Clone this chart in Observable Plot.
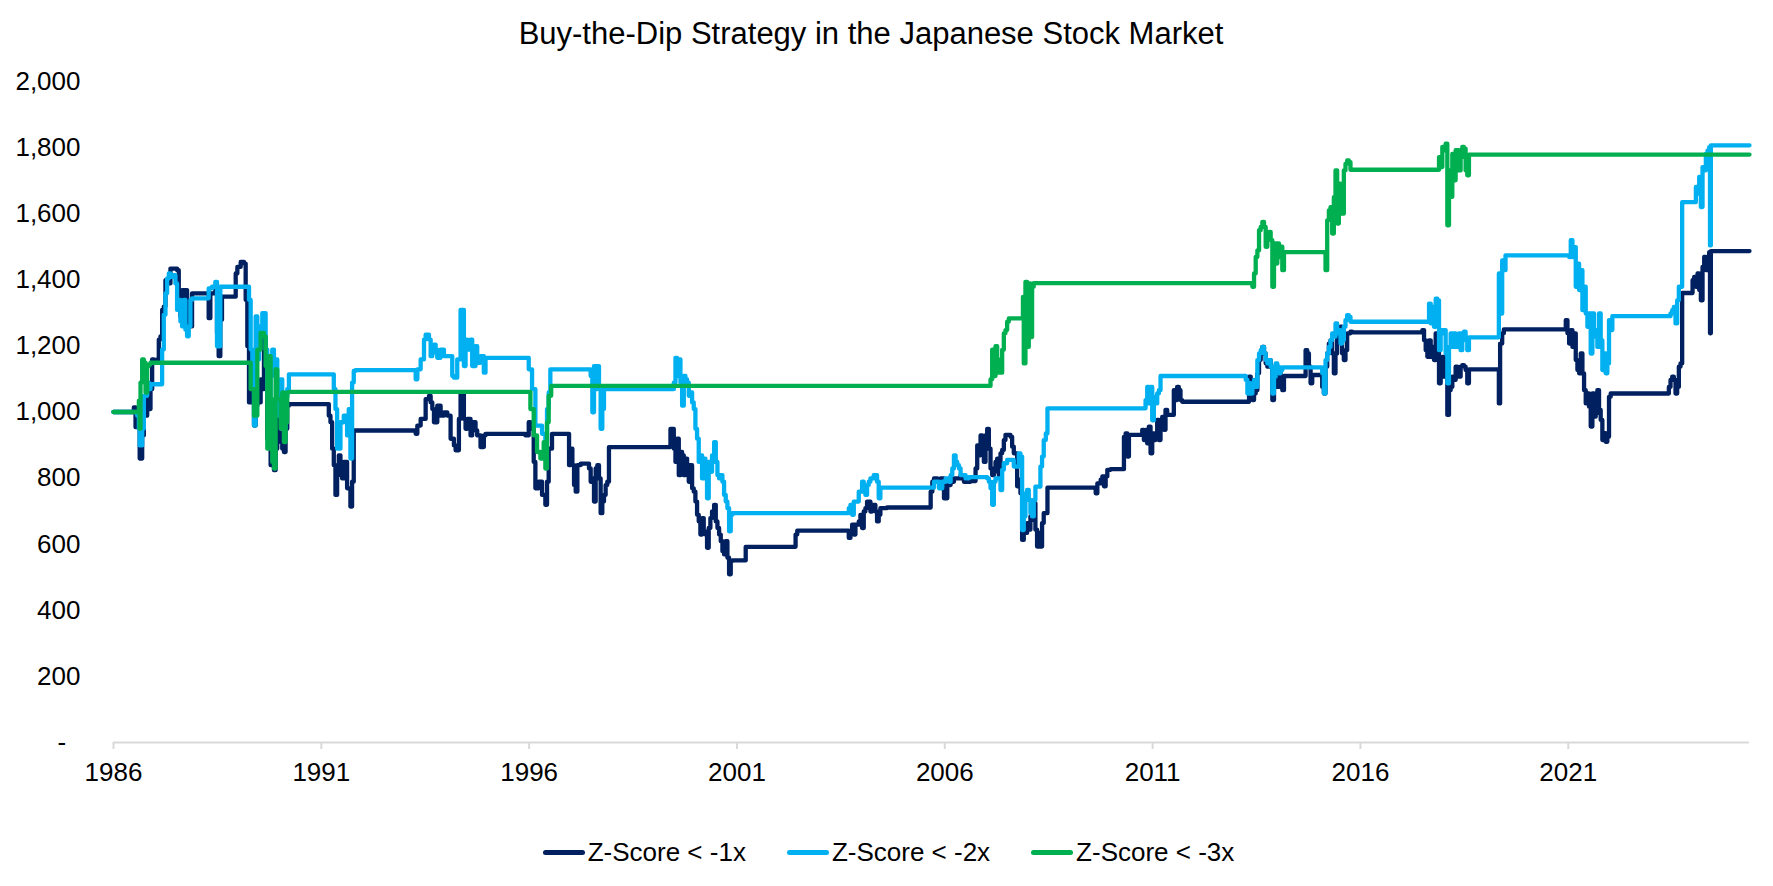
<!DOCTYPE html>
<html>
<head>
<meta charset="utf-8">
<script src="https://cdn.jsdelivr.net/npm/d3@7"></script>
<script src="https://cdn.jsdelivr.net/npm/@observablehq/plot@0.6"></script>
<style>
  html, body { margin: 0; padding: 0; background: #fff; }
  #wrap { position: relative; width: 1773px; height: 886px; font-family: Arial, "Liberation Sans", sans-serif; color: #000; }
  #title { position: absolute; left: 0; width: 1742px; top: 16px; text-align: center; font-size: 31px; line-height: 36px; }
  #legend { position: absolute; left: 0; width: 1777px; top: 836px; display: flex; justify-content: center; gap: 41px; font-size: 26px; line-height: 32px; }
  .item { display: flex; align-items: center; white-space: nowrap; }
  .swatch { display: inline-block; width: 42px; height: 5px; border-radius: 2.5px; margin-right: 3px; }
</style>
</head>
<body>
<div id="wrap">
  <div id="chart"></div>
  <div id="title">Buy-the-Dip Strategy in the Japanese Stock Market</div>
  <div id="legend"></div>
</div>
<script>
// Series names and colours
const seriesNames = ["Z-Score < -1x", "Z-Score < -2x", "Z-Score < -3x"];
const seriesColors = ["#002060", "#00B0F0", "#00B050"];

// Axis ticks
const xTickYears = [1986, 1991, 1996, 2001, 2006, 2011, 2016, 2021];
const yTickValues = [0, 200, 400, 600, 800, 1000, 1200, 1400, 1600, 1800, 2000];

// Portfolio value (start = 1,000) by decimal year, buying when the Z-score falls below -1
const dipMinus1 = [
  [1986.00,1000],[1986.49,1014],[1986.53,954],[1986.57,1000],[1986.63,859],[1986.69,929],[1986.73,1009],[1986.77,989],[1986.81,1039],[1986.85,1009],[1986.89,1069],[1986.93,1159],[1986.97,1149],[1987.05,1159],[1987.09,1219],[1987.13,1229],[1987.17,1309],[1987.21,1319],[1987.25,1399],[1987.29,1389],[1987.37,1434],[1987.45,1434],[1987.53,1429],[1987.57,1339],[1987.61,1289],[1987.65,1369],[1987.69,1339],[1987.73,1369],[1987.77,1259],[1987.81,1309],[1987.85,1259],[1987.89,1359],
  [1988.29,1284],[1988.33,1359],[1988.45,1369],[1988.49,1239],[1988.53,1169],[1988.57,1279],[1988.61,1349],
  [1988.94,1419],[1988.98,1439],[1989.06,1454],[1989.14,1449],[1989.18,1339],[1989.22,1199],[1989.26,1029],[1989.30,1069],[1989.38,959],[1989.42,1019],[1989.46,1029],[1989.54,1099],[1989.58,1069],[1989.62,1229],[1989.66,1139],[1989.70,919],[1989.74,929],[1989.78,839],[1989.86,824],[1989.90,889],[1989.94,1039],[1990.02,909],[1990.06,889],[1990.10,879],[1990.14,949],[1990.18,1019],[1990.22,1024],
  [1991.18,989],[1991.22,969],[1991.26,889],[1991.30,839],[1991.34,749],[1991.38,809],[1991.42,869],[1991.46,849],[1991.50,799],[1991.54,849],[1991.62,769],[1991.70,714],[1991.74,789],[1991.78,944],
  [1993.27,934],[1993.31,959],[1993.39,979],[1993.51,1039],[1993.59,1049],[1993.63,1029],[1993.67,1009],[1993.71,969],[1993.79,1019],[1993.87,989],[1993.95,999],[1994.03,989],[1994.11,919],[1994.19,899],[1994.23,884],[1994.31,979],[1994.35,1059],[1994.43,979],[1994.47,949],[1994.51,979],[1994.59,929],[1994.63,969],[1994.71,944],[1994.75,929],[1994.83,894],[1994.91,929],[1994.95,934],
  [1995.91,929],[1995.99,969],[1996.03,949],[1996.11,849],[1996.15,769],[1996.23,789],[1996.31,749],[1996.39,719],[1996.43,789],[1996.47,889],[1996.55,934],
  [1996.96,839],[1997.00,889],[1997.04,839],[1997.08,779],[1997.12,759],[1997.16,839],[1997.24,844],[1997.44,829],[1997.48,789],[1997.52,799],[1997.56,729],[1997.60,829],[1997.64,839],[1997.68,799],[1997.72,694],[1997.76,729],[1997.80,749],[1997.84,779],[1997.88,789],[1997.92,894],
  [1999.40,949],[1999.48,889],[1999.52,849],[1999.56,919],[1999.60,809],[1999.64,879],[1999.68,869],[1999.72,809],[1999.76,859],[1999.80,839],[1999.84,789],[1999.88,839],[1999.92,769],[1999.96,759],[2000.00,729],[2000.04,689],[2000.08,669],[2000.12,629],[2000.16,679],[2000.20,639],[2000.24,629],[2000.28,589],[2000.32,649],[2000.36,679],[2000.40,699],[2000.45,719],[2000.49,669],[2000.53,649],[2000.57,629],[2000.61,609],[2000.65,579],[2000.69,569],[2000.73,609],[2000.77,559],[2000.81,509],[2000.85,549],[2000.89,551],
  [2001.21,592],[2002.41,629],[2002.45,641],
  [2003.69,619],[2003.73,639],[2003.77,659],[2003.81,629],[2003.85,659],[2003.93,669],[2003.97,689],[2004.01,649],[2004.05,699],[2004.09,709],[2004.13,729],[2004.21,699],[2004.25,719],[2004.33,699],[2004.37,669],[2004.41,689],[2004.45,709],[2004.61,711],
  [2005.66,759],[2005.70,789],[2005.74,799],[2005.82,789],[2005.90,799],[2005.98,739],[2006.06,779],[2006.14,789],[2006.22,799],[2006.38,809],[2006.46,789],[2006.62,791],
  [2006.74,829],[2006.78,899],[2006.82,869],[2006.86,929],[2006.90,899],[2006.94,849],[2006.98,929],[2007.02,949],[2007.06,889],[2007.10,829],[2007.14,809],[2007.18,819],[2007.22,849],[2007.26,859],[2007.30,809],
  [2007.34,875],[2007.38,885],[2007.42,915],[2007.46,931],[2007.58,925],[2007.62,895],[2007.66,875],[2007.74,775],[2007.78,795],[2007.82,754],[2007.86,613],[2007.90,644],[2007.94,634],[2007.98,664],[2008.02,644],[2008.06,684],[2008.10,674],[2008.14,724],[2008.18,644],[2008.22,593],[2008.26,634],[2008.30,593],[2008.34,664],[2008.38,694],[2008.47,771],
  [2009.63,754],[2009.67,784],[2009.75,795],[2009.79,805],[2009.83,775],[2009.87,805],[2009.91,825],[2009.99,827],
  [2010.31,925],[2010.35,935],[2010.39,865],[2010.43,931],
  [2010.75,946],[2010.79,915],[2010.83,946],[2010.87,905],[2010.91,956],[2010.95,875],[2010.99,935],[2011.03,915],[2011.07,935],[2011.11,976],[2011.15,915],[2011.19,946],[2011.23,985],[2011.27,946],[2011.31,1006],[2011.35,991],
  [2011.51,1066],[2011.55,1036],[2011.59,1076],[2011.63,1066],[2011.67,1036],[2011.71,1031],
  [2013.32,1107],[2013.36,1056],[2013.40,1036],[2013.44,1056],[2013.48,1066],[2013.52,1117],[2013.56,1157],[2013.60,1177],[2013.64,1197],[2013.68,1177],[2013.72,1147],[2013.76,1137],[2013.80,1157],[2013.84,1137],[2013.88,1036],[2013.92,1117],[2013.96,1107],[2014.00,1076],[2014.04,1117],[2014.08,1076],[2014.12,1066],[2014.16,1109],
  [2014.68,1187],[2014.72,1177],[2014.76,1137],[2014.80,1087],[2014.84,1112],
  [2015.08,1076],[2015.12,1056],[2015.16,1137],[2015.20,1177],[2015.24,1207],[2015.28,1217],[2015.32,1177],[2015.36,1117],[2015.40,1177],[2015.44,1248],[2015.48,1217],[2015.52,1258],[2015.56,1177],[2015.60,1157],[2015.64,1187],[2015.68,1238],[2015.76,1243],[2015.80,1241],
  [2017.49,1248],[2017.53,1217],[2017.57,1187],[2017.61,1167],[2017.65,1217],[2017.69,1167],[2017.73,1197],[2017.77,1157],[2017.81,1238],[2017.85,1197],[2017.89,1087],[2017.93,1157],[2017.97,1167],[2018.01,1107],[2018.05,1137],[2018.09,991],[2018.13,1066],[2018.17,1076],[2018.21,1107],[2018.25,1097],[2018.29,1137],[2018.33,1127],[2018.37,1107],[2018.41,1137],[2018.45,1142],[2018.49,1137],[2018.53,1127],[2018.57,1087],[2018.61,1129],
  [2019.33,1026],[2019.36,1207],[2019.41,1238],[2019.45,1250],
  [2020.94,1278],[2020.98,1238],[2021.02,1207],[2021.06,1248],[2021.10,1197],[2021.14,1238],[2021.18,1157],[2021.22,1127],[2021.26,1117],[2021.30,1177],[2021.34,1117],[2021.38,1066],[2021.42,1026],[2021.46,1056],[2021.50,1016],[2021.54,956],[2021.58,1056],[2021.62,986],[2021.66,996],[2021.70,1066],[2021.74,1006],[2021.78,976],[2021.82,915],[2021.86,936],[2021.90,910],[2021.94,925],[2021.98,1046],[2022.02,1056],
  [2023.42,1076],[2023.46,1097],[2023.50,1107],[2023.54,1097],[2023.58,1056],[2023.62,1076],[2023.66,1137],[2023.70,1147],[2023.74,1360],
  [2023.99,1399],[2024.03,1409],[2024.07,1379],[2024.11,1419],[2024.15,1369],[2024.19,1338],[2024.23,1439],[2024.27,1469],[2024.31,1429],[2024.35,1469],[2024.39,1484],[2024.41,1238],[2024.43,1487],[2025.36,1487]
];

// Buying when the Z-score falls below -2
const dipMinus2 = [
  [1986.00,1000],[1986.57,989],[1986.61,949],[1986.63,899],[1986.69,949],[1986.73,1049],[1986.81,1089],[1986.85,1069],[1986.89,1084],
  [1987.17,1189],[1987.21,1294],[1987.25,1359],[1987.29,1404],[1987.33,1419],[1987.37,1409],[1987.45,1414],[1987.49,1389],[1987.53,1309],[1987.57,1339],[1987.61,1274],[1987.65,1259],[1987.69,1339],[1987.73,1249],[1987.77,1229],[1987.81,1259],[1987.85,1339],[1987.89,1344],
  [1988.29,1374],[1988.37,1379],[1988.45,1394],[1988.49,1199],[1988.57,1379],
  [1989.26,1339],[1989.30,1189],[1989.34,1069],[1989.38,959],[1989.42,1289],[1989.46,1159],[1989.50,1259],[1989.54,1229],[1989.58,1299],[1989.66,1189],[1989.70,1049],[1989.74,1039],[1989.78,1109],[1989.82,1189],[1989.86,1139],[1989.90,1159],[1989.94,989],[1990.02,1099],[1990.06,949],[1990.14,1044],[1990.18,1069],[1990.22,1114],
  [1991.30,1069],[1991.34,1009],[1991.38,889],[1991.46,969],[1991.54,989],[1991.62,929],[1991.66,1009],[1991.70,859],[1991.74,1089],[1991.78,1124],[1991.82,1127],
  [1993.27,1099],[1993.31,1129],[1993.39,1159],[1993.47,1219],[1993.51,1234],[1993.59,1219],[1993.63,1169],[1993.67,1179],[1993.71,1204],[1993.75,1189],[1993.79,1164],[1993.87,1189],[1993.95,1169],[1994.15,1109],[1994.19,1104],[1994.27,1159],[1994.35,1309],[1994.39,1309],[1994.43,1139],[1994.47,1219],[1994.51,1189],[1994.59,1219],[1994.63,1139],[1994.71,1199],[1994.75,1149],[1994.83,1169],[1994.91,1119],[1994.95,1164],
  [1995.99,1129],[1996.07,1069],[1996.15,959],[1996.23,959],[1996.31,934],[1996.39,909],[1996.43,1009],[1996.47,1059],[1996.51,1129],
  [1997.48,1109],[1997.52,999],[1997.56,1139],[1997.60,1069],[1997.64,1139],[1997.68,1079],[1997.72,949],[1997.76,1009],[1997.80,1069],
  [1999.48,1089],[1999.52,1164],[1999.56,1109],[1999.60,1159],[1999.64,1089],[1999.68,1019],[1999.72,1109],[1999.76,1099],[1999.80,1089],[1999.84,1049],[1999.88,1059],[1999.92,1029],[1999.96,1009],[2000.00,949],[2000.04,919],[2000.08,849],[2000.12,869],[2000.16,799],[2000.20,859],[2000.24,829],[2000.28,739],[2000.32,849],[2000.36,819],[2000.40,869],[2000.45,909],[2000.49,849],[2000.53,809],[2000.57,799],[2000.61,809],[2000.65,789],[2000.69,749],[2000.73,729],[2000.77,709],[2000.81,639],[2000.85,689],[2000.89,694],
  [2003.69,709],[2003.73,719],[2003.77,689],[2003.81,729],[2003.93,759],[2004.01,789],[2004.05,769],[2004.09,749],[2004.13,779],[2004.17,789],[2004.21,799],[2004.29,809],[2004.37,789],[2004.41,739],[2004.45,771],
  [2005.74,789],[2005.86,769],[2005.94,789],[2006.02,799],[2006.10,789],[2006.14,809],[2006.18,829],[2006.22,869],[2006.26,849],[2006.30,839],[2006.34,829],[2006.38,809],[2006.50,799],[2006.58,803],
  [2007.02,799],[2007.06,789],[2007.10,769],[2007.14,719],[2007.18,789],[2007.22,799],
  [2007.34,764],[2007.38,825],[2007.42,845],[2007.50,855],[2007.66,835],[2007.78,875],[2007.82,865],[2007.86,643],[2007.90,684],[2007.94,754],[2007.98,764],[2008.02,734],[2008.06,694],[2008.10,684],[2008.14,734],[2008.18,774],[2008.30,835],[2008.34,865],[2008.38,915],[2008.43,935],[2008.47,1011],
  [2010.83,1036],[2010.87,1076],[2010.91,1026],[2010.95,1076],[2010.99,975],[2011.03,1046],[2011.07,1026],[2011.11,1056],[2011.15,1066],[2011.19,1109],
  [2013.24,1097],[2013.28,1056],[2013.32,1087],[2013.36,1056],[2013.40,1076],[2013.44,1097],[2013.48,1076],[2013.52,1157],[2013.56,1177],[2013.60,1187],[2013.64,1197],[2013.68,1177],[2013.72,1157],[2013.76,1147],[2013.80,1157],[2013.84,1137],[2013.88,1056],[2013.92,1107],[2013.96,1147],[2014.00,1137],[2014.04,1117],[2014.08,1127],[2014.12,1135],
  [2015.08,1117],[2015.12,1056],[2015.16,1157],[2015.20,1177],[2015.24,1197],[2015.28,1217],[2015.32,1238],[2015.36,1228],[2015.40,1268],[2015.44,1238],[2015.48,1248],[2015.52,1207],[2015.56,1217],[2015.60,1258],[2015.64,1278],[2015.68,1293],[2015.72,1288],[2015.76,1273],
  [2017.65,1328],[2017.69,1268],[2017.73,1318],[2017.77,1258],[2017.81,1343],[2017.85,1338],[2017.89,1187],[2017.93,1248],[2017.97,1238],[2018.01,1248],[2018.05,1177],[2018.09,1087],[2018.13,1197],[2018.17,1238],[2018.21,1197],[2018.25,1238],[2018.29,1197],[2018.33,1228],[2018.37,1238],[2018.41,1187],[2018.45,1238],[2018.49,1243],[2018.53,1217],[2018.57,1187],[2018.61,1226],
  [2019.33,1419],[2019.37,1298],[2019.41,1459],[2019.45,1429],[2019.49,1474],
  [2021.02,1469],[2021.06,1520],[2021.10,1469],[2021.14,1499],[2021.18,1379],[2021.22,1449],[2021.26,1369],[2021.30,1429],[2021.34,1308],[2021.38,1379],[2021.42,1298],[2021.46,1258],[2021.50,1298],[2021.54,1177],[2021.58,1298],[2021.62,1228],[2021.66,1248],[2021.70,1197],[2021.74,1298],[2021.78,1217],[2021.82,1127],[2021.86,1177],[2021.90,1117],[2021.94,1147],[2021.98,1278],[2022.02,1248],[2022.06,1290],
  [2023.46,1298],[2023.50,1308],[2023.54,1318],[2023.58,1268],[2023.62,1338],[2023.66,1379],[2023.74,1635],
  [2024.07,1681],[2024.11,1661],[2024.15,1711],[2024.19,1620],[2024.23,1741],[2024.27,1731],[2024.31,1781],[2024.35,1791],[2024.39,1801],[2024.41,1504],[2024.43,1807],[2025.36,1807]
];

// Buying when the Z-score falls below -3
const dipMinus3 = [
  [1986.00,1000],[1986.61,1034],[1986.63,949],[1986.65,1089],[1986.69,1159],[1986.73,1149],[1986.77,1059],[1986.81,1139],[1986.85,1144],[1986.89,1149],
  [1989.30,1069],[1989.38,989],[1989.46,1189],[1989.54,1239],[1989.62,1229],[1989.66,1139],[1989.70,889],[1989.74,1169],[1989.78,1039],[1989.82,849],[1989.86,829],[1989.90,1129],[1989.94,1039],[1990.02,949],[1990.06,1059],[1990.10,909],[1990.14,969],[1990.18,1059],[1990.22,1061],
  [1996.03,1009],[1996.11,929],[1996.19,879],[1996.27,859],[1996.35,909],[1996.39,829],[1996.43,969],[1996.47,1049],[1996.53,1079],
  [2007.10,1099],[2007.14,1189],[2007.18,1109],[2007.22,1199],[2007.26,1159],[2007.30,1119],
  [2007.38,1188],[2007.42,1238],[2007.46,1248],[2007.50,1273],[2007.54,1283],[2007.88,1348],[2007.90,1147],[2007.94,1394],[2007.98,1197],[2008.02,1389],[2008.06,1227],[2008.10,1379],[2008.14,1390],
  [2013.40,1379],[2013.44,1419],[2013.48,1469],[2013.52,1489],[2013.56,1550],[2013.60,1560],[2013.64,1575],[2013.68,1560],[2013.72,1500],[2013.76,1540],[2013.80,1545],[2013.84,1520],[2013.88,1379],[2013.92,1510],[2013.96,1449],[2014.00,1510],[2014.04,1469],[2014.08,1500],[2014.12,1429],[2014.16,1484],
  [2015.16,1429],[2015.20,1580],[2015.24,1610],[2015.28,1620],[2015.32,1540],[2015.36,1650],[2015.40,1731],[2015.44,1570],[2015.48,1691],[2015.52,1651],[2015.56,1600],[2015.60,1731],[2015.64,1751],[2015.68,1761],[2015.72,1756],[2015.76,1733],
  [2017.89,1771],[2017.93,1741],[2017.97,1802],[2018.01,1792],[2018.05,1812],[2018.09,1565],[2018.13,1731],[2018.17,1651],[2018.21,1781],[2018.25,1701],[2018.29,1792],[2018.37,1731],[2018.41,1771],[2018.45,1802],[2018.49,1797],[2018.53,1731],[2018.57,1716],[2018.61,1779],[2025.36,1779]
];

// Long table for Plot: one row per point, tagged with its series
const seriesData = [dipMinus1, dipMinus2, dipMinus3];
const rows = seriesData.flatMap((pts, i) =>
  pts.map(([year, value]) => ({series: seriesNames[i], year, value}))
);

const fmtComma = d3.format(",");

const chart = Plot.plot({
  width: 1773,
  height: 886,
  marginTop: 81,
  marginBottom: 144,
  marginLeft: 113,
  marginRight: 24,
  style: {fontFamily: "Arial, 'Liberation Sans', sans-serif", fontSize: "26px", color: "#000", background: "#fff", overflow: "visible"},
  x: {domain: [1986, 2025.36], label: null},
  y: {domain: [0, 2000], label: null},
  color: {domain: seriesNames, range: seriesColors},
  marks: [
    Plot.axisX({ticks: xTickYears, tickFormat: d => String(d), tickSize: 7, tickPadding: 13, stroke: "#d9d9d9", strokeWidth: 2, fill: "#000", label: null}),
    Plot.axisY({ticks: yTickValues, tickFormat: d => d === 0 ? "-\u00a0\u00a0" : fmtComma(d), tickSize: 0, tickPadding: 33, fill: "#000", label: null}),
    Plot.ruleY([0], {stroke: "#d9d9d9", strokeWidth: 2}),
    Plot.line(rows, {
      x: "year", y: "value", z: "series", stroke: "series",
      curve: "step-after", strokeWidth: 4.3,
      strokeLinejoin: "round", strokeLinecap: "round"
    })
  ]
});
document.getElementById("chart").appendChild(chart);

// Legend built from the series names and colours
const legend = document.getElementById("legend");
seriesNames.forEach((name, i) => {
  const item = document.createElement("div");
  item.className = "item";
  const sw = document.createElement("span");
  sw.className = "swatch";
  sw.style.background = seriesColors[i];
  const label = document.createElement("span");
  label.textContent = name;
  item.append(sw, label);
  legend.appendChild(item);
});
</script>
</body>
</html>
